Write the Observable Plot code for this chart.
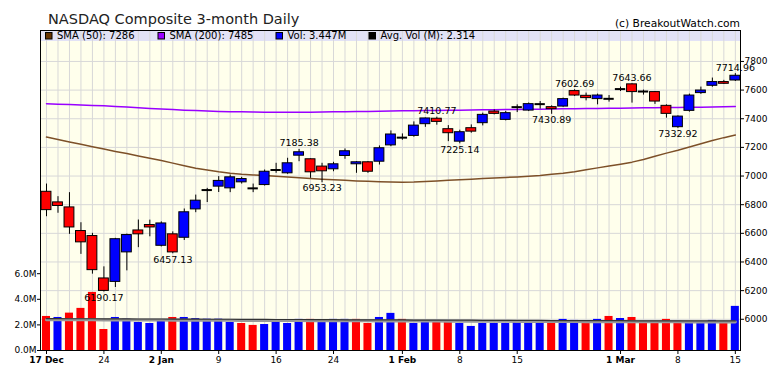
<!DOCTYPE html>
<html><head><meta charset="utf-8">
<script src="https://cdn.jsdelivr.net/npm/d3@7"></script>
<script src="https://cdn.jsdelivr.net/npm/@observablehq/plot@0.6"></script>
<style>html,body{margin:0;padding:0;background:#fff}</style>
</head><body><div id="chart"></div>
<script>
// ---------- data ----------
const dates = ["2018-12-17","2018-12-18","2018-12-19","2018-12-20","2018-12-21","2018-12-24","2018-12-26","2018-12-27","2018-12-28","2018-12-31",
"2019-01-02","2019-01-03","2019-01-04","2019-01-07","2019-01-08","2019-01-09","2019-01-10","2019-01-11","2019-01-14","2019-01-15","2019-01-16","2019-01-17","2019-01-18","2019-01-22","2019-01-23","2019-01-24","2019-01-25","2019-01-28","2019-01-29","2019-01-30","2019-01-31",
"2019-02-01","2019-02-04","2019-02-05","2019-02-06","2019-02-07","2019-02-08","2019-02-11","2019-02-12","2019-02-13","2019-02-14","2019-02-15","2019-02-19","2019-02-20","2019-02-21","2019-02-22","2019-02-25","2019-02-26","2019-02-27","2019-02-28",
"2019-03-01","2019-03-04","2019-03-05","2019-03-06","2019-03-07","2019-03-08","2019-03-11","2019-03-12","2019-03-13","2019-03-14","2019-03-15"];
const open  = [6890,6816,6781,6616,6581,6285,6261,6467,6620,6658, 6513,6593,6569,6767,6902,6926,6914,6956,6914,6937,7042,7019,7142,7117,7066,7047,7140,7082,7096,7100,7214,
               7268,7280,7362,7400,7327,7240,7334,7369,7450,7392,7481,7457,7502,7481,7485,7593,7560,7537,7539, 7607,7640,7590,7586,7490,7341,7455,7579,7630,7656,7667];
const high  = [6944,6856,6884,6674,6600,6366,6565,6595,6693,6692, 6680,6610,6770,6867,6914,6996,7007,6991,6944,7042,7089,7124,7185.38,7120,7089,7096,7189,7101,7101,7210,7315,
               7294,7378,7405,7410.77,7352,7320,7357,7439,7462,7451,7497,7510,7520,7490,7544,7602.69,7579,7572,7562, 7621,7643.66,7600,7590,7497,7420,7572,7621,7684,7668,7714.96];
const low   = [6716,6740,6593,6453,6315,6190.17,6222,6338,6500,6576, 6505,6457.13,6550,6744,6815,6885,6884,6944,6884,6930,7019,7012,7100,6984,6953.23,7030,7117,7019,7019,7077,7205,
               7250,7271,7340,7355,7240,7225.14,7299,7350,7427,7385,7443,7450,7467,7430.89,7480,7555,7525,7497,7516, 7590,7509,7565,7500,7404,7332.92,7446,7570,7620,7640,7660];
const close = [6762,6791,6641,6537,6343,6198,6559,6588,6593,6641, 6669,6467,6747,6828,6902,6966,6991,6979,6914,7030,7042,7089,7166,7026,7033,7082,7173,7096,7030,7194,7290,
               7268,7352,7402,7378,7299,7306,7310,7427,7434,7439,7481,7502,7502,7467,7537,7562,7544,7562,7539, 7607,7586,7590,7520,7434,7415,7562,7597,7656,7644,7700];
const volume = [2.66,2.58,2.92,3.29,4.54,1.64,2.58,2.45,2.19,2.11, 2.27,2.58,2.58,2.50,2.45,2.45,2.19,2.11,1.96,2.03,2.19,2.11,2.43,2.43,2.27,2.43,2.43,2.43,2.11,2.58,2.90,
                2.43,2.11,2.27,2.19,2.27,2.11,1.88,2.11,2.11,2.11,2.27,2.11,2.19,2.11,2.43,2.35,2.30,2.43,2.66, 2.50,2.58,2.11,2.27,2.43,2.27,2.27,2.19,2.35,2.19,3.447];
// u = blue (up) volume bar, d = red (down) volume bar
const volumeDir = ["dudddduuuu","uduuuuuddu","uuuduuuddu","uduudduuuu","uuuuduudud","uddddduuud","u"].join("").split("");
const sma50  = [7272,7255,7238,7222,7205,7188,7172,7157,7140,7124, 7108,7090,7072,7055,7042,7030,7020,7013,7008,7003,6998,6993,6988,6983,6978,6974,6970,6966,6963,6960,6958,
                6957,6958,6962,6966,6970,6974,6978,6982,6986,6990,6994,6998,7003,7012,7020,7030,7044,7057,7070, 7083,7097,7116,7138,7160,7180,7202,7225,7248,7268,7286];
const sma200 = [7505,7502,7499,7496,7493,7490,7486,7482,7477,7472, 7468,7464,7460,7457,7454,7451,7449,7448,7447,7446,7446,7446,7446,7446,7447,7448,7449,7450,7451,7452,7454,
                7455,7456,7457,7458,7459,7460,7461,7462,7463,7464,7465,7466,7467,7468,7469,7470,7471,7472,7473, 7474,7475,7476,7477,7478,7479,7480,7481,7482,7483,7485];
const avgVol = [2.49,2.49,2.48,2.48,2.48,2.47,2.47,2.47,2.46,2.46, 2.46,2.45,2.45,2.45,2.44,2.44,2.44,2.43,2.43,2.43,2.42,2.42,2.42,2.41,2.41,2.41,2.40,2.40,2.40,2.39,2.39,
                2.39,2.38,2.38,2.38,2.37,2.37,2.37,2.36,2.36,2.36,2.35,2.35,2.35,2.34,2.34,2.34,2.33,2.33,2.33, 2.33,2.32,2.32,2.32,2.32,2.32,2.31,2.31,2.31,2.31,2.314];
const highLabelDates = ["2019-01-18","2019-02-06","2019-02-25","2019-03-04","2019-03-15"];
const lowLabelDates  = ["2018-12-24","2019-01-03","2019-01-23","2019-02-08","2019-02-21","2019-03-08"];
const tickDates  = ["2018-12-17","2018-12-24","2019-01-02","2019-01-09","2019-01-16","2019-01-24","2019-02-01","2019-02-08","2019-02-15","2019-03-01","2019-03-08","2019-03-15"];
const tickLabels = ["17 Dec","24","2 Jan","9","16","24","1 Feb","8","15","1 Mar","8","15"];
const tickBold   = [true,false,true,false,false,false,true,false,false,true,false,false];
const priceTicks = [6000,6200,6400,6600,6800,7000,7200,7400,7600,7800];
const volTicks = [0,2,4,6];
const legendLabels = ["SMA (50): 7286","SMA (200): 7485","Vol: 3.447M","Avg. Vol (M): 2.314"];
const legendColors = ["#663300","#9900ff","#0000ff","#000000"];
const titleText = "NASDAQ Composite 3-month Daily";
const creditText = "(c) BreakoutWatch.com";

// ---------- derived ----------
const N = dates.length;
const idx = d3.range(N);
const rows = idx.map(i => ({i, o: open[i], h: high[i], l: low[i], c: close[i], v: volume[i], vd: volumeDir[i], s50: sma50[i], s200: sma200[i], av: avgVol[i]}));
const priceDomain = [5782, 8016];
const volMax = 25;
const vy = v => priceDomain[0] + v / volMax * (priceDomain[1] - priceDomain[0]);
const vyInv = p => (p - priceDomain[0]) / (priceDomain[1] - priceDomain[0]) * volMax;
const di = d => dates.indexOf(d);
const ticks = tickDates.map((d, k) => ({i: di(d), label: tickLabels[k], bold: tickBold[k]}));
const BLUE = "#0000ff", RED = "#ff0000";

function band(index, scales, values, dim) {
  const g = d3.create("svg:g");
  g.append("rect").attr("x", dim.marginLeft).attr("y", dim.marginTop)
    .attr("width", dim.width - dim.marginLeft - dim.marginRight).attr("height", 11).attr("fill", "#e2e2f6");
  return g.node();
}
function legend(index, scales, values, dim) {
  const g = d3.create("svg:g").attr("font-family", "'DejaVu Sans', sans-serif").attr("font-size", 10).attr("text-anchor", "start");
  const xs = [5, 117.5, 235.5, 328.5];
  legendLabels.forEach((t, k) => {
    const x = dim.marginLeft + xs[k];
    g.append("rect").attr("x", x + 0.5).attr("y", dim.marginTop + 2.5).attr("width", 6.5).attr("height", 6.5)
      .attr("fill", legendColors[k]).attr("stroke", "#000");
    g.append("text").attr("x", x + 12).attr("y", dim.marginTop + 9.3).attr("text-anchor", "start").attr("fill", "#000").text(t);
  });
  return g.node();
}
function titles(index, scales, values, dim) {
  const g = d3.create("svg:g").attr("font-family", "'DejaVu Sans', sans-serif");
  g.append("text").attr("x", 48).attr("y", 24).attr("text-anchor", "start").attr("font-size", 14.5).attr("fill", "#222").text(titleText);
  g.append("text").attr("x", dim.width - dim.marginRight).attr("y", 26.5).attr("text-anchor", "end")
    .attr("font-size", 10.7).attr("fill", "#000").text(creditText);
  return g.node();
}

const chart = Plot.plot({
  width: 780, height: 376,
  marginLeft: 40, marginRight: 40, marginTop: 30, marginBottom: 26,
  style: {fontFamily: "'DejaVu Sans', sans-serif", fontSize: "9px", background: "#fff", color: "#000", overflow: "visible"},
  x: {domain: [-0.523, 60.45]},
  y: {domain: priceDomain},
  color: {type: "identity"},
  marks: [
    Plot.frame({fill: "#ffffec", stroke: null}),
    band,
    Plot.ruleX(idx, {x: d => d, stroke: "#d8d8d8"}),
    Plot.ruleY(priceTicks, {stroke: "#d8d8d8"}),
    legend,
    Plot.line(rows, {x: "i", y: "s200", stroke: "#9900ff", strokeWidth: 1.5}),
    Plot.line(rows, {x: "i", y: "s50", stroke: "#7d5028", strokeWidth: 1.5}),
    Plot.rect(rows, {x1: d => d.i - 0.35, x2: d => d.i + 0.35, y1: () => vy(0), y2: d => vy(d.v),
      fill: d => d.vd === "u" ? BLUE : RED}),
    Plot.line(rows, {x: "i", y: d => vy(d.av), stroke: "#999", strokeWidth: 3, dy: 1}),
    Plot.line(rows, {x: "i", y: d => vy(d.av), stroke: "#333", strokeWidth: 1.2}),
    Plot.ruleX(rows, {x: "i", y1: "l", y2: "h", stroke: "#000"}),
    Plot.rect(rows.filter(d => d.o !== d.c), {x1: d => d.i - 0.43, x2: d => d.i + 0.43,
      y1: d => Math.min(d.o, d.c), y2: d => Math.max(d.o, d.c),
      fill: d => d.c > d.o ? BLUE : RED, stroke: "#000"}),
    Plot.ruleY(rows.filter(d => d.o === d.c), {y: "o", x1: d => d.i - 0.45, x2: d => d.i + 0.45, stroke: "#000", strokeWidth: 2}),
    Plot.text(highLabelDates.map(di), {x: d => d, y: d => high[d], text: d => high[d].toFixed(2),
      lineAnchor: "bottom", dy: -3, fontSize: 9.5, fill: "#000"}),
    Plot.text(lowLabelDates.map(di), {x: d => d, y: d => low[d], text: d => low[d].toFixed(2),
      lineAnchor: "top", dy: 2, fontSize: 9.5, fill: "#000"}),
    Plot.axisY(priceTicks, {anchor: "right", label: null, tickSize: 3, tickPadding: 1, tickFormat: d => String(d)}),
    Plot.axisY(volTicks.map(vy), {anchor: "left", label: null, tickSize: 3, tickPadding: 1,
      tickFormat: d => (Math.round(vyInv(d) * 10) / 10).toFixed(1) + "M"}),
    Plot.axisX(ticks.filter(t => !t.bold).map(t => t.i), {anchor: "bottom", label: null, tickSize: 4, tickPadding: 2,
      tickFormat: d => ticks.find(t => t.i === d).label}),
    Plot.axisX(ticks.filter(t => t.bold).map(t => t.i), {anchor: "bottom", label: null, tickSize: 4, tickPadding: 2, fontWeight: "bold",
      tickFormat: d => ticks.find(t => t.i === d).label}),
    Plot.frame({stroke: "#000"}),
    titles
  ]
});
document.getElementById("chart").append(chart);
</script>
</body></html>
